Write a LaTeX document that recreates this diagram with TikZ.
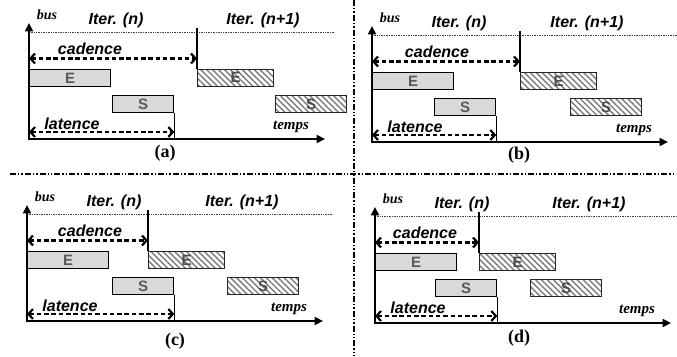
\documentclass[tikz,border=0pt]{standalone}
\usepackage{fontspec}
\newfontfamily\arialf{Liberation Sans}
\newfontfamily\tnrf{Liberation Serif}
\usetikzlibrary{arrows.meta,patterns.meta}
\definecolor{boxgray}{HTML}{D9D9D9}
\definecolor{txtgray}{HTML}{595959}
\definecolor{hatchgray}{HTML}{7A7A7A}
\tikzset{
 axis/.style={line width=2.8pt, line join=miter, {Triangle[length=8.5pt,width=8pt]}-{Triangle[length=8.5pt,width=8pt]}},
 graybox/.style={draw, line width=1.3pt, fill=boxgray, minimum height=17pt, inner sep=0pt, anchor=south west,
   font=\arialf\bfseries\fontsize{15}{15}\selectfont, text=txtgray},
 hatchbox/.style={draw=black!85, line width=1.3pt, pattern={Lines[angle=-45,distance=4.2pt,line width=1.4pt]},
   pattern color=hatchgray, minimum height=17pt, inner sep=0pt, anchor=south west,
   font=\arialf\bfseries\fontsize{15}{15}\selectfont, text=black!70},
 itr/.style={font=\arialf\bfseries\itshape\fontsize{16}{16}\selectfont, inner sep=0pt},
 busf/.style={font=\tnrf\bfseries\itshape\fontsize{14}{14}\selectfont, inner sep=0pt},
 tempsf/.style={font=\tnrf\bfseries\itshape\fontsize{15}{15}\selectfont, inner sep=0pt},
 lbl/.style={font=\tnrf\bfseries\fontsize{18}{18}\selectfont, inner sep=0pt},
 dotline/.style={line width=0.9pt, dash pattern=on 0.9pt off 0.8pt, black!75},
 thinline/.style={line width=1.4pt},
 dimarrow/.style={line width=2.2pt, dash pattern=on 4.5pt off 2.8pt,
   {Straight Barb[length=4.5pt,width=10pt]}-{Straight Barb[length=4.5pt,width=10pt]}},
 sepline/.style={line width=1.8pt, dash pattern=on 6pt off 2pt on 1.4pt off 2pt on 1.4pt off 2pt},
}
% #1 prefix, #2 shift, #3 iteration boundary x, #4 S start, #5 hatched S start,
% #6 Iter(n+1) x, #7 cadence text x, #8 label position
\newcommand\drawpanel[8]{%
 \begin{scope}[shift={#2}]
  \coordinate (#1-o) at (0,0);
  \coordinate (#1-yt) at (0,116);
  \coordinate (#1-xt) at (296,0);
  \coordinate (#1-d1) at (0,107);
  \coordinate (#1-d2) at (306,107);
  \coordinate (#1-v) at ({#3},111);
  \coordinate (#1-c1) at (0,80.5);
  \coordinate (#1-l1) at (0,7);
  \draw[dotline] (#1-d1) -- (#1-d2);
  \node[graybox, minimum width=81pt] (#1-E) at (0,52) {E};
  \node[graybox, minimum width=61pt] (#1-S) at ({#4},26) {S};
  \node[hatchbox, minimum width=76pt] (#1-E2) at ({#3},52) {E};
  \node[hatchbox, minimum width=71pt] (#1-S2) at ({#5},26) {S};
  \draw[thinline] (#1-v) -- (#1-E2.north west);
  \draw[thinline] (#1-S.south east) -- (#1-S.south east |- #1-o);
  \draw[dimarrow] (#1-c1) -- (#1-c1 -| #1-v);
  \draw[dimarrow] (#1-l1) -- (#1-l1 -| #1-S.south east);
  \draw[axis] (#1-yt) -- (#1-o) -- (#1-xt);
  \node[busf] (#1-bus) at (18,124) {bus};
  \node[itr] (#1-n) at (87,118.5) {Iter. (n)};
  \node[itr] (#1-n1) at ({#6},118.5) {Iter. (n+1)};
  \node[itr] (#1-cad) at ({#7},90) {cadence};
  \node[itr] (#1-lat) at (43,15) {latence};
  \node[tempsf] (#1-temps) at (262,12) {temps};
  \node[lbl] (#1-lbl) at #8 {(#1)};
 \end{scope}}
\begin{document}
\begin{tikzpicture}[x=1pt,y=1pt]
\useasboundingbox (0,0) rectangle (677,356);
\coordinate (h1) at (10,182);
\coordinate (h2) at (676,182);
\coordinate (v1) at (354,356);
\coordinate (v2) at (354,0);
\draw[sepline] (h1) -- (h2);
\draw[sepline] (v1) -- (v2);
\drawpanel{a}{(29,217)}{168}{83}{246}{234}{61}{(136,-14)}
\drawpanel{b}{(372,214)}{148}{62}{198}{215}{65}{(147,-13)}
\drawpanel{c}{(27,35)}{121}{85}{200}{215}{63}{(148,-20)}
\drawpanel{d}{(375,33)}{104}{60}{155}{214}{50}{(144,-15)}
\end{tikzpicture}
\end{document}
